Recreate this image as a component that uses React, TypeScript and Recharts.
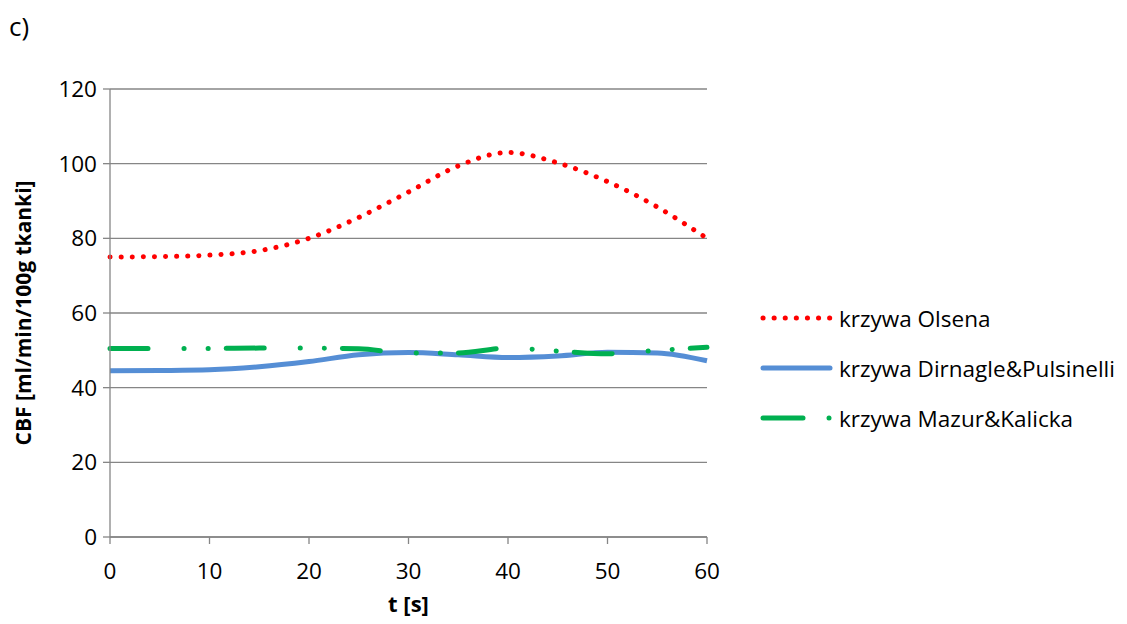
import React from 'react';
import { LineChart, Line, XAxis, YAxis, CartesianGrid, Legend } from 'recharts';

const time = [0, 5, 10, 15, 20, 25, 30, 35, 40, 45, 50, 55, 60];
const olsen = [75, 75.1, 75.5, 76.7, 80, 85.6, 92.4, 99.4, 103, 100.2, 95.2, 88.4, 80];
const dirnagle = [44.5, 44.6, 44.8, 45.6, 47.0, 48.8, 49.4, 48.8, 48.1, 48.5, 49.5, 49.3, 47.2];
const mazur = [50.5, 50.5, 50.5, 50.6, 50.6, 50.4, 49.3, 49.3, 50.6, 49.8, 49.1, 50.0, 50.8];

const xTicks = [0, 10, 20, 30, 40, 50, 60];
const yTicks = [0, 20, 40, 60, 80, 100, 120];

const seriesNames = ['krzywa Olsena', 'krzywa Dirnagle&Pulsinelli', 'krzywa Mazur&Kalicka'];

const data = time.map((t, i) => ({ t, olsen: olsen[i], dirnagle: dirnagle[i], mazur: mazur[i] }));

const FONT = '"Open Sans", sans-serif';
const GRID = '#868686';
const RED = '#FF0000';
const BLUE = '#558ED5';
const GREEN = '#00B050';

const RED_DASH = '0.1 11';
const GREEN_DASH = '38 36 0.1 24 0.1 18';

function LegendContent() {
  const rows = [
    { name: seriesNames[0], color: RED, dash: RED_DASH },
    { name: seriesNames[1], color: BLUE, dash: undefined },
    { name: seriesNames[2], color: GREEN, dash: undefined },
  ];
  return (
    <div style={{ fontFamily: FONT, fontSize: 22.5, color: '#000' }}>
      {rows.map((r, i) => (
        <div key={r.name} style={{ display: 'flex', alignItems: 'center', height: 50 }}>
          <svg width={79} height={12}>
            {i === 2 ? (
              <>
                <line x1={3} y1={6} x2={43} y2={6} stroke={r.color} strokeWidth={5} strokeLinecap="round" />
                <circle cx={69} cy={6} r={2.5} fill={r.color} />
              </>
            ) : (
              <line
                x1={3}
                y1={6}
                x2={70}
                y2={6}
                stroke={r.color}
                strokeWidth={5}
                strokeLinecap="round"
                strokeDasharray={r.dash}
              />
            )}
          </svg>
          <span>{r.name}</span>
        </div>
      ))}
    </div>
  );
}

function YTitle() {
  return (
    <text
      x={15}
      y={305}
      transform="rotate(-90, 15, 305)"
      textAnchor="middle"
      dominantBaseline="central"
      fontFamily={FONT}
      fontSize={21}
      fontWeight="bold"
      fill="#000"
    >
      CBF  [ml/min/100g tkanki]
    </text>
  );
}

export default function App() {
  return (
    <div style={{ position: 'relative', width: 1111, height: 616 }}>
      <div style={{ position: 'absolute', left: 1, top: 0, fontFamily: FONT, fontSize: 26 }}>c)</div>
      <LineChart
        width={1111}
        height={616}
        data={data}
        margin={{ top: 81, right: 412, bottom: 37, left: 42 }}
      >
        <CartesianGrid horizontal vertical={false} stroke={GRID} strokeWidth={1.3} />
        <XAxis
          dataKey="t"
          type="number"
          domain={[0, 60]}
          ticks={xTicks}
          height={50}
          stroke={GRID}
          strokeWidth={1.3}
          tickSize={7}
          tickMargin={19}
          tick={{ fill: '#000', fontFamily: FONT, fontSize: 22.5 }}
          label={{ value: 't [s]', position: 'insideBottom', offset: -25, fill: '#000', fontFamily: FONT, fontSize: 22, fontWeight: 'bold' }}
        />
        <YAxis
          type="number"
          domain={[0, 120]}
          ticks={yTicks}
          width={60}
          stroke={GRID}
          strokeWidth={1.3}
          tickSize={7}
          tickMargin={6}
          tick={{ fill: '#000', fontFamily: FONT, fontSize: 22.5 }}
          label={<YTitle />}
        />
        <Legend
          layout="vertical"
          align="center"
          verticalAlign="middle"
          wrapperStyle={{ left: 752, top: 285, width: 360 }}
          content={<LegendContent />}
        />
        <Line
          type="monotone"
          dataKey="olsen"
          name={seriesNames[0]}
          stroke={RED}
          strokeWidth={5}
          strokeLinecap="round"
          strokeDasharray={RED_DASH}
          dot={false}
          isAnimationActive={false}
        />
        <Line
          type="monotone"
          dataKey="dirnagle"
          name={seriesNames[1]}
          stroke={BLUE}
          strokeWidth={5}
          dot={false}
          isAnimationActive={false}
        />
        <Line
          type="monotone"
          dataKey="mazur"
          name={seriesNames[2]}
          stroke={GREEN}
          strokeWidth={5}
          strokeLinecap="round"
          strokeDasharray={GREEN_DASH}
          dot={false}
          isAnimationActive={false}
        />
      </LineChart>
    </div>
  );
}
